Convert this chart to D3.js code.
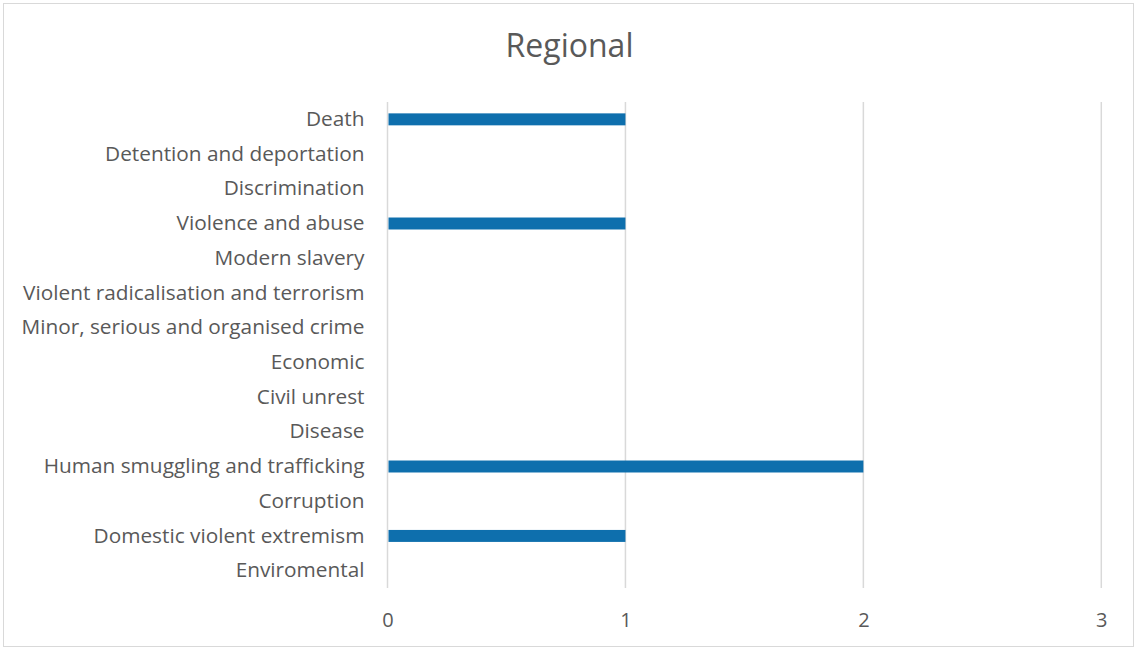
<!DOCTYPE html>
<html>
<head>
<meta charset="utf-8">
<script src="https://cdn.jsdelivr.net/npm/d3@7"></script>
<style>
  html, body { margin: 0; padding: 0; background: #fff; }
  svg { display: block; }
  text { font-family: "Open Sans", "Liberation Sans", sans-serif; fill: #595959; }
</style>
</head>
<body>
<svg id="chart" width="1137" height="649"></svg>
<script>
// Risk categories, top to bottom
const categories = [
  "Death",
  "Detention and deportation",
  "Discrimination",
  "Violence and abuse",
  "Modern slavery",
  "Violent radicalisation and terrorism",
  "Minor, serious and organised crime",
  "Economic",
  "Civil unrest",
  "Disease",
  "Human smuggling and trafficking",
  "Corruption",
  "Domestic violent extremism",
  "Enviromental"
];
const values = [1, 0, 0, 1, 0, 0, 0, 0, 0, 0, 2, 0, 1, 0];
const xTicks = [0, 1, 2, 3];
const title = "Regional";

const svg = d3.select("#chart");
const W = 1137, H = 649;
const margin = { left: 387.5, right: 35.7, top: 102, bottom: 61 };

// chart frame
svg.append("rect")
  .attr("x", 3.5).attr("y", 3.5)
  .attr("width", W - 7).attr("height", H - 6)
  .attr("fill", "#fff").attr("stroke", "#d9d9d9").attr("stroke-width", 1);

const x = d3.scaleLinear().domain([0, 3]).range([margin.left, W - margin.right]);
const y = d3.scaleBand().domain(categories)
  .range([margin.top, H - margin.bottom]).paddingInner(0.655).paddingOuter(0.3275);

// vertical gridlines
svg.append("g").selectAll("line").data(xTicks).join("line")
  .attr("x1", d => x(d)).attr("x2", d => x(d))
  .attr("y1", margin.top).attr("y2", H - margin.bottom)
  .attr("stroke", "#d9d9d9").attr("stroke-width", 1.5);

// bars
svg.append("g").selectAll("rect").data(categories).join("rect")
  .attr("x", x(0) + 1)
  .attr("y", d => y(d))
  .attr("width", (d, i) => Math.max(0, x(values[i]) - x(0) - 1))
  .attr("height", y.bandwidth())
  .attr("fill", "#0e6fad");

// category labels
const yAxis = d3.axisLeft(y).tickSize(0).tickPadding(23);
const gy = svg.append("g").attr("transform", `translate(${x(0)},0)`).call(yAxis);
gy.select(".domain").remove();
gy.selectAll("text").style("font-size", "20.8px").attr("fill", "#595959")
  .style("font-family", "'Open Sans', sans-serif");

// value axis labels
const xAxis = d3.axisBottom(x).tickValues(xTicks).tickSize(0).tickPadding(25).tickFormat(d3.format("d"));
const gx = svg.append("g").attr("transform", `translate(0,${H - margin.bottom})`).call(xAxis);
gx.select(".domain").remove();
gx.selectAll("text").style("font-size", "20px").attr("fill", "#595959")
  .style("font-family", "'Open Sans', sans-serif");

// title
svg.append("text")
  .attr("x", 569.5).attr("y", 57)
  .attr("text-anchor", "middle")
  .style("font-size", "32px")
  .text(title);
</script>
</body>
</html>
